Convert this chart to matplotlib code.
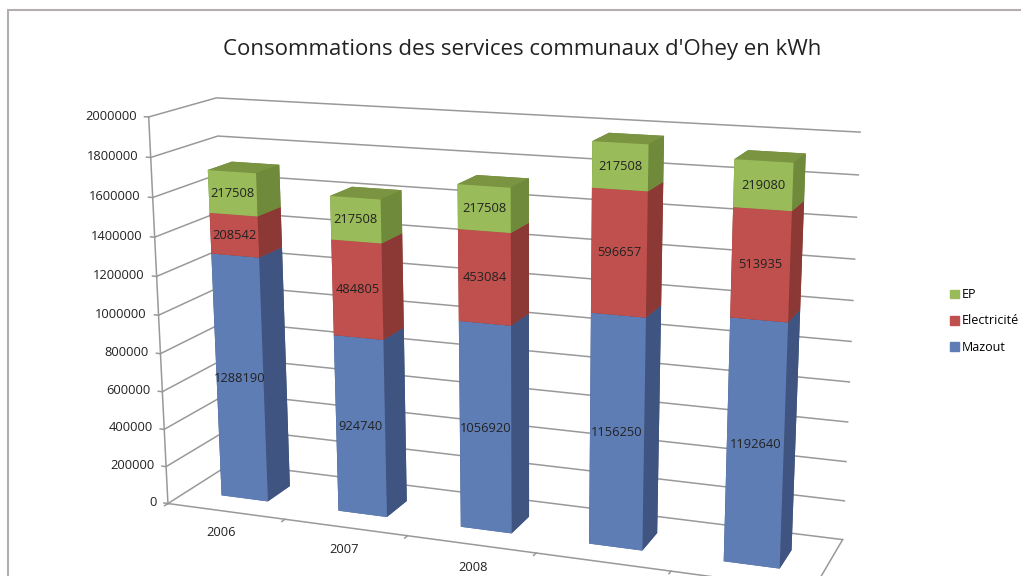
import matplotlib
matplotlib.use('Agg')
import matplotlib.pyplot as plt
from matplotlib.patches import Patch, Rectangle
import numpy as np

plt.rcParams['font.family'] = ['Open Sans', 'DejaVu Sans']

years = ['2006', '2007', '2008', '2009', '2010']
mazout = [1288190, 924740, 1056920, 1156250, 1192640]
electricite = [208542, 484805, 453084, 596657, 513935]
ep = [217508, 217508, 217508, 217508, 219080]
z_ticks = [0, 200000, 400000, 600000, 800000, 1000000, 1200000, 1400000, 1600000, 1800000, 2000000]

# front, side, top colours of each series
blue = ['#5f7db5', '#3f5480', '#4d6696']
red = ['#c0504d', '#8c3835', '#a04340']
green = ['#9abb59', '#6f8a3b', '#7a9442']

bar_x = 0.2976
bar_w = 0.4014
bar_y = 0.3016
bar_d = 0.3689
grid_c = '#999999'
text_c = '#222222'
fs = 9.3

fig = plt.figure(figsize=(10.21, 5.76), dpi=100)
fig.add_artist(Rectangle((8 / 1021, -0.1), 1.1, 1 - 10 / 576 + 0.1, transform=fig.transFigure,
                         fc='white', ec='#b5aeae', lw=1.5, zorder=-1))

# camera fitted against the corners of the chart box
ax = fig.add_axes([-0.0242, -0.1856, 1.0, 1.2], projection='3d', computed_zorder=False)
ax.patch.set_alpha(0)
ax.set_proj_type('persp', focal_length=0.5306)
ax.view_init(elev=14.8588, azim=-69.0407, roll=0.2759)
ax.set_box_aspect((680, 138.58, 405.87), zoom=1.1412)
ax.set_xlim(0, 5)
ax.set_ylim(0, 1)
ax.set_zlim(0, 2000000)
ax.set_axis_off()

# walls grid
for z in z_ticks:
    ax.plot([0, 0, 5], [0, 1, 1], [z, z, z], color=grid_c, lw=1.1, zorder=1, clip_on=False)
    ax.plot([-0.035, 0], [0, 0], [z, z], color=grid_c, lw=1.1, zorder=1, clip_on=False)
    ax.text(-0.1, 0, z, str(z), ha='right', va='center', fontsize=fs, color=text_c, zorder=5)
ax.plot([0, 0], [0, 0], [0, 2000000], color=grid_c, lw=1.1, zorder=1, clip_on=False)
ax.plot([0, 5, 5], [0, 0, 1], [0, 0, 0], color=grid_c, lw=1.1, zorder=1, clip_on=False)
for i in range(6):
    ax.plot([i, i], [0, -0.05], [0, 0], color=grid_c, lw=1.1, zorder=1, clip_on=False)

xs, zs, hs, cols = [], [], [], []
for i in range(5):
    bottom = 0
    for vals, c in [(mazout, blue), (electricite, red), (ep, green)]:
        xs.append(i + bar_x)
        zs.append(bottom)
        hs.append(vals[i])
        # -z, +z, -y, +y, -x, +x
        cols += [c[2], c[2], c[0], c[1], c[1], c[1]]
        ax.text(i + bar_x + bar_w / 2, bar_y, bottom + vals[i] / 2, str(vals[i]), ha='center', va='center',
                fontsize=fs, color=text_c, zorder=5)
        bottom += vals[i]
    ax.text(i + 0.68, -0.4, 0, years[i], ha='center', va='center', fontsize=fs, color=text_c, zorder=5)

ax.bar3d(xs, np.full(len(xs), bar_y), zs, bar_w, bar_d, hs, color=cols, shade=False, zorder=2, clip_on=False)

fig.text(522 / 1021, 1 - 49 / 576, "Consommations des services communaux d'Ohey en kWh",
         ha='center', va='center', fontsize=16, color=text_c)

handles = [Patch(color=green[0], label='EP'), Patch(color=red[0], label='Electricité'),
           Patch(color=blue[0], label='Mazout')]
fig.legend(handles=handles, loc='center left', bbox_to_anchor=(950 / 1021, 1 - 321 / 576), frameon=False,
           fontsize=9, handlelength=0.72, handleheight=0.72, handletextpad=0.25, labelspacing=1.05,
           borderpad=0, borderaxespad=0)

fig.savefig('out.png', dpi=100)
